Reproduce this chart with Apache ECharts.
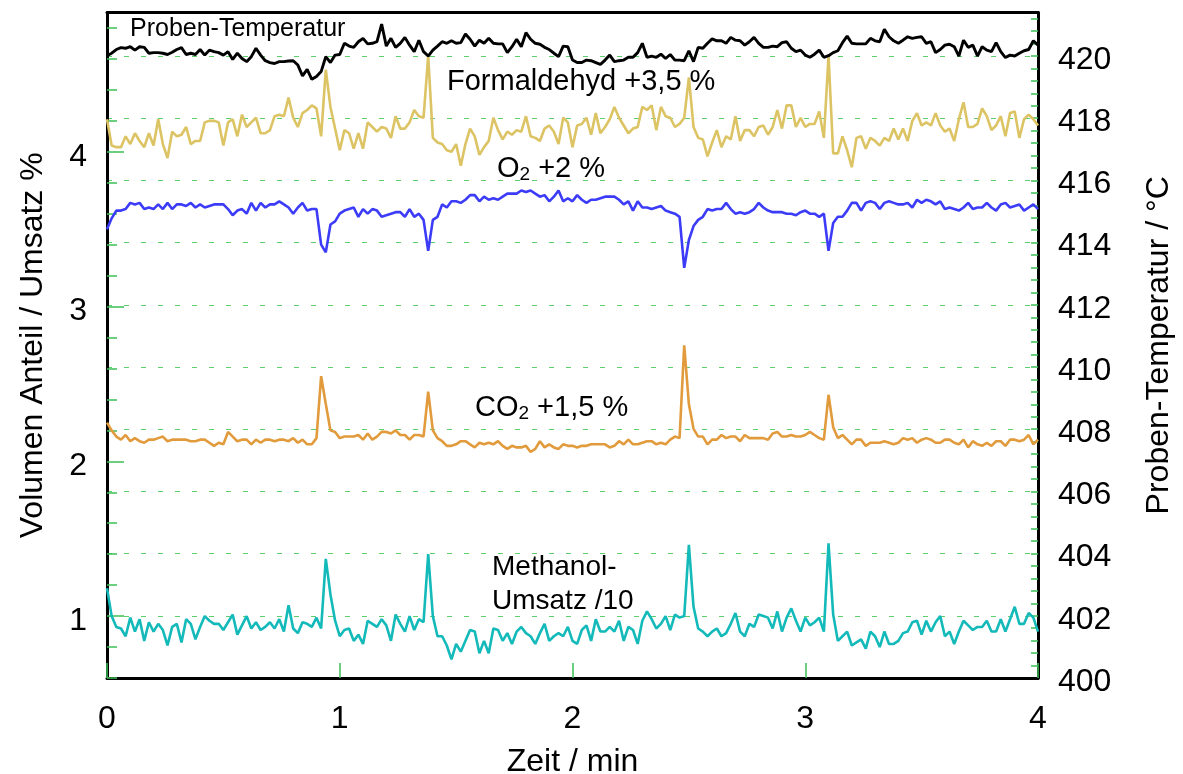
<!DOCTYPE html>
<html lang="de">
<head>
<meta charset="utf-8">
<title>Proben-Temperatur und Volumenanteile</title>
<script src="https://cdn.jsdelivr.net/npm/echarts@6/dist/echarts.min.js"></script>
<style>
    html, body { margin: 0; padding: 0; background: #fff; }
    #chart { width: 1183px; height: 774px; }
</style>
</head>
<body>
<div id="chart"></div>
<script>
'use strict';

// one sample every 0.02 min, 0 .. 4 min
const sampleStep = 0.02;

const xTickValues = [0, 1, 2, 3, 4];
const leftLabelValues = [1, 2, 3, 4];
const rightLabelValues = [400, 402, 404, 406, 408, 410, 412, 414, 416, 418, 420];

// Proben-Temperatur / °C (right axis)
const temperatur = [
    420.01, 420.09, 420.21, 420.27, 420.25, 420.30, 420.19, 420.30, 420.28, 420.09,
    420.11, 420.11, 420.09, 420.05, 420.12, 420.21, 420.27, 420.05, 420.09, 420.05,
    420.21, 420.03, 420.19, 420.14, 420.11, 420.03, 420.14, 419.89, 420.09, 419.92,
    419.82, 419.98, 420.25, 420.03, 419.85, 419.79, 419.76, 419.82, 419.82, 419.84,
    419.85, 419.71, 419.36, 419.57, 419.25, 419.34, 419.50, 419.98, 419.79, 420.03,
    420.05, 420.41, 420.32, 420.28, 420.46, 420.57, 420.39, 420.41, 420.46, 421.03,
    420.32, 420.57, 420.28, 420.41, 420.60, 420.35, 420.14, 420.51, 420.14, 420.00,
    420.19, 420.32, 420.46, 420.41, 420.49, 420.41, 420.43, 420.71, 420.54, 420.32,
    420.51, 420.41, 420.57, 420.41, 420.39, 420.39, 420.11, 420.30, 420.54, 420.30,
    420.75, 420.54, 420.41, 420.38, 420.28, 420.21, 420.09, 419.98, 420.32, 420.30,
    419.87, 419.79, 419.79, 419.87, 419.85, 419.79, 419.73, 419.87, 420.03, 419.82,
    419.85, 419.87, 419.96, 419.96, 420.11, 420.41, 419.96, 420.00, 419.96, 420.06,
    419.92, 420.05, 419.87, 419.87, 419.85, 420.17, 419.82, 420.28, 420.25, 420.41,
    420.55, 420.49, 420.49, 420.41, 420.60, 420.51, 420.49, 420.35, 420.46, 420.60,
    420.41, 420.28, 420.28, 420.32, 420.30, 420.43, 420.46, 420.25, 420.14, 420.19,
    420.03, 419.96, 420.06, 420.19, 419.96, 420.01, 420.11, 420.17, 420.43, 420.64,
    420.41, 420.39, 420.39, 420.39, 420.57, 420.49, 420.46, 420.86, 420.62, 420.49,
    420.41, 420.51, 420.62, 420.57, 420.60, 420.62, 420.41, 420.46, 420.11, 420.21,
    420.35, 420.38, 420.30, 420.00, 420.51, 420.28, 420.35, 420.00, 420.30, 420.19,
    420.14, 420.43, 420.14, 419.95, 420.03, 420.00, 420.09, 420.17, 420.21, 420.49,
    420.35
];

// Formaldehyd +3,5 %
const formaldehyd = [
    4.21, 4.04, 4.03, 4.03, 4.10, 4.05, 4.12, 4.07, 4.03, 4.12,
    4.04, 4.21, 4.05, 3.96, 4.13, 4.10, 4.11, 4.16, 4.05, 4.07,
    4.07, 4.19, 4.20, 4.20, 4.19, 4.04, 4.19, 4.21, 4.10, 4.24,
    4.16, 4.19, 4.22, 4.12, 4.12, 4.14, 4.23, 4.24, 4.23, 4.35,
    4.22, 4.16, 4.25, 4.27, 4.30, 4.28, 4.10, 4.53, 4.29, 4.15,
    4.01, 4.14, 4.12, 4.02, 4.12, 4.02, 4.19, 4.16, 4.13, 4.16,
    4.15, 4.09, 4.23, 4.15, 4.15, 4.19, 4.27, 4.23, 4.22, 4.62,
    4.09, 4.06, 4.05, 4.01, 4.00, 4.05, 3.91, 4.05, 4.15, 4.10,
    3.98, 4.03, 4.07, 4.22, 4.14, 4.08, 4.13, 4.11, 4.14, 4.13,
    4.23, 4.10, 4.09, 4.07, 4.15, 4.17, 4.13, 4.05, 4.22, 4.19,
    4.03, 4.17, 4.18, 4.22, 4.11, 4.25, 4.12, 4.16, 4.21, 4.29,
    4.22, 4.17, 4.12, 4.15, 4.16, 4.29, 4.27, 4.30, 4.14, 4.29,
    4.23, 4.22, 4.16, 4.18, 4.22, 4.48, 4.16, 4.09, 4.08, 3.97,
    4.06, 4.14, 4.03, 4.10, 4.08, 4.23, 4.07, 4.14, 4.14, 4.10,
    4.16, 4.17, 4.11, 4.16, 4.27, 4.15, 4.30, 4.30, 4.16, 4.22,
    4.16, 4.18, 4.18, 4.26, 4.09, 4.62, 3.99, 3.99, 4.10, 4.01,
    3.90, 4.09, 4.10, 4.02, 4.09, 4.07, 4.04, 4.09, 4.07, 4.15,
    4.08, 4.15, 4.07, 4.20, 4.25, 4.17, 4.19, 4.17, 4.25, 4.17,
    4.13, 4.15, 4.07, 4.21, 4.32, 4.16, 4.16, 4.18, 4.28, 4.23,
    4.14, 4.17, 4.23, 4.10, 4.25, 4.26, 4.09, 4.21, 4.24, 4.21,
    4.17
];

// O2 +2 %
const sauerstoff = [
    3.50, 3.57, 3.62, 3.62, 3.63, 3.67, 3.66, 3.67, 3.63, 3.64,
    3.63, 3.66, 3.63, 3.67, 3.63, 3.66, 3.66, 3.65, 3.67, 3.64,
    3.66, 3.64, 3.65, 3.66, 3.66, 3.66, 3.63, 3.59, 3.62, 3.63,
    3.60, 3.67, 3.62, 3.67, 3.64, 3.66, 3.66, 3.68, 3.66, 3.64,
    3.60, 3.64, 3.67, 3.62, 3.63, 3.63, 3.40, 3.35, 3.53, 3.55,
    3.60, 3.62, 3.63, 3.64, 3.58, 3.63, 3.60, 3.63, 3.62, 3.58,
    3.59, 3.60, 3.61, 3.61, 3.58, 3.63, 3.58, 3.60, 3.56, 3.36,
    3.56, 3.58, 3.66, 3.64, 3.68, 3.68, 3.67, 3.69, 3.72, 3.72,
    3.68, 3.71, 3.69, 3.70, 3.69, 3.71, 3.73, 3.73, 3.73, 3.75,
    3.74, 3.75, 3.73, 3.71, 3.72, 3.68, 3.71, 3.75, 3.68, 3.70,
    3.68, 3.72, 3.69, 3.67, 3.69, 3.69, 3.70, 3.71, 3.71, 3.71,
    3.69, 3.66, 3.68, 3.62, 3.68, 3.64, 3.64, 3.63, 3.64, 3.65,
    3.62, 3.61, 3.60, 3.58, 3.25, 3.43, 3.52, 3.56, 3.58, 3.63,
    3.62, 3.63, 3.63, 3.67, 3.63, 3.60, 3.61, 3.60, 3.61, 3.63,
    3.67, 3.64, 3.62, 3.61, 3.61, 3.61, 3.60, 3.60, 3.59, 3.61,
    3.62, 3.60, 3.60, 3.58, 3.60, 3.36, 3.54, 3.58, 3.58, 3.62,
    3.67, 3.67, 3.62, 3.67, 3.68, 3.67, 3.63, 3.67, 3.68, 3.67,
    3.66, 3.66, 3.67, 3.64, 3.69, 3.67, 3.69, 3.68, 3.66, 3.68,
    3.63, 3.64, 3.63, 3.62, 3.64, 3.67, 3.63, 3.64, 3.64, 3.67,
    3.64, 3.62, 3.66, 3.67, 3.64, 3.65, 3.66, 3.62, 3.64, 3.66,
    3.63
];

// CO2 +1,5 %
const kohlendioxid = [
    2.25, 2.20, 2.16, 2.14, 2.17, 2.13, 2.15, 2.13, 2.12, 2.14,
    2.14, 2.15, 2.16, 2.13, 2.14, 2.14, 2.14, 2.14, 2.13, 2.13,
    2.14, 2.14, 2.12, 2.10, 2.12, 2.11, 2.19, 2.16, 2.13, 2.14,
    2.14, 2.11, 2.14, 2.12, 2.14, 2.14, 2.13, 2.14, 2.14, 2.13,
    2.15, 2.12, 2.14, 2.11, 2.11, 2.15, 2.55, 2.37, 2.20, 2.19,
    2.15, 2.16, 2.16, 2.16, 2.17, 2.14, 2.18, 2.14, 2.16, 2.19,
    2.19, 2.18, 2.20, 2.17, 2.17, 2.14, 2.17, 2.17, 2.16, 2.45,
    2.20, 2.15, 2.13, 2.10, 2.10, 2.11, 2.13, 2.13, 2.11, 2.09,
    2.12, 2.11, 2.12, 2.11, 2.13, 2.10, 2.08, 2.10, 2.09, 2.09,
    2.10, 2.06, 2.08, 2.13, 2.09, 2.11, 2.09, 2.08, 2.11, 2.10,
    2.10, 2.09, 2.10, 2.10, 2.11, 2.11, 2.11, 2.11, 2.09, 2.10,
    2.13, 2.11, 2.14, 2.11, 2.11, 2.12, 2.13, 2.13, 2.11, 2.12,
    2.11, 2.14, 2.16, 2.15, 2.75, 2.37, 2.21, 2.16, 2.16, 2.11,
    2.14, 2.14, 2.17, 2.15, 2.16, 2.16, 2.13, 2.17, 2.15, 2.15,
    2.15, 2.15, 2.14, 2.18, 2.19, 2.16, 2.16, 2.17, 2.16, 2.16,
    2.17, 2.19, 2.17, 2.15, 2.14, 2.43, 2.22, 2.15, 2.17, 2.14,
    2.11, 2.14, 2.14, 2.10, 2.12, 2.12, 2.12, 2.13, 2.12, 2.11,
    2.12, 2.15, 2.14, 2.15, 2.12, 2.14, 2.15, 2.14, 2.12, 2.12,
    2.14, 2.14, 2.12, 2.11, 2.14, 2.09, 2.13, 2.11, 2.10, 2.12,
    2.10, 2.13, 2.13, 2.10, 2.14, 2.14, 2.13, 2.14, 2.17, 2.11,
    2.14
];

// Methanol-Umsatz /10
const methanol = [
    1.18, 1.00, 0.93, 0.92, 0.87, 0.99, 0.90, 0.98, 0.84, 0.96,
    0.90, 0.95, 0.91, 0.81, 0.93, 0.95, 0.83, 0.98, 0.95, 0.85,
    0.93, 1.00, 0.97, 0.95, 0.95, 0.91, 0.96, 1.01, 0.88, 0.94,
    1.00, 0.92, 0.96, 0.91, 0.93, 0.96, 0.92, 0.98, 0.90, 1.07,
    0.92, 0.89, 0.96, 0.95, 0.93, 0.99, 0.92, 1.37, 1.14, 0.97,
    0.87, 0.91, 0.92, 0.84, 0.88, 0.82, 0.97, 0.95, 0.93, 0.98,
    0.94, 0.84, 1.01, 0.95, 0.90, 1.00, 0.91, 0.98, 0.96, 1.40,
    1.00, 0.87, 0.87, 0.81, 0.72, 0.82, 0.77, 0.84, 0.91, 0.90,
    0.76, 0.84, 0.76, 0.92, 0.91, 0.84, 0.89, 0.82, 0.90, 0.93,
    0.89, 0.87, 0.82, 0.89, 0.95, 0.84, 0.87, 0.89, 0.87, 0.93,
    0.84, 0.82, 0.91, 0.94, 0.84, 0.98, 0.90, 0.90, 0.93, 0.90,
    0.97, 0.84, 0.93, 0.91, 0.82, 0.97, 1.03, 0.98, 0.92, 0.95,
    1.00, 0.91, 1.01, 0.99, 1.00, 1.46, 1.06, 0.92, 0.90, 0.87,
    0.90, 0.92, 0.87, 0.89, 0.95, 1.02, 0.90, 0.87, 0.95, 0.93,
    1.01, 1.00, 0.99, 0.92, 1.03, 0.90, 0.99, 1.05, 0.97, 0.90,
    0.99, 0.94, 0.96, 0.99, 0.90, 1.47, 1.01, 0.84, 0.87, 0.90,
    0.81, 0.83, 0.85, 0.79, 0.90, 0.87, 0.80, 0.90, 0.82, 0.82,
    0.84, 0.89, 0.90, 0.96, 0.97, 0.88, 0.97, 0.90, 0.96, 1.00,
    0.87, 0.90, 0.82, 0.90, 0.97, 0.94, 0.91, 0.93, 0.93, 0.97,
    0.90, 0.90, 0.98, 0.90, 0.98, 1.06, 0.95, 0.95, 1.02, 0.99,
    0.90
];

const fontFamily = '"Liberation Sans", Arial, Helvetica, sans-serif';
const tickGreen = '#3dbf55';
const gridGreen = '#5ccf6c';

function toPairs(values) {
    return values.map((v, i) => [+(i * sampleStep).toFixed(2), v]);
}

// small tick marks between the labelled ones
function stepTicks(from, to, step) {
    const ticks = [];
    for (let k = 0; from + k * step <= to + 1e-9; k++) {
        ticks.push(+(from + k * step).toFixed(2));
    }
    return ticks;
}

function lineSeries(name, values, color, yAxisIndex, width) {
    return {
        name: name,
        type: 'line',
        yAxisIndex: yAxisIndex,
        data: toPairs(values),
        showSymbol: false,
        symbol: 'none',
        lineStyle: {color: color, width: width},
        itemStyle: {color: color},
        animation: false,
    };
}

const subRich = {
    n: {fontSize: 29, lineHeight: 30, fontFamily: fontFamily, color: '#000'},
    s: {fontSize: 19, lineHeight: 16, verticalAlign: 'bottom', fontFamily: fontFamily, color: '#000'},
};

function label(x, y, text, size) {
    return {
        type: 'text', x: x, y: y, z: 100,
        style: {
            text: text, fill: '#000', verticalAlign: 'middle',
            font: `${size}px ${fontFamily}`, lineHeight: 34,
        },
    };
}

function richLabel(x, y, text) {
    return {
        type: 'text', x: x, y: y, z: 100,
        style: {text: text, verticalAlign: 'middle', rich: subRich},
    };
}

const chart = echarts.init(document.getElementById('chart'));

chart.setOption({
    backgroundColor: '#fff',
    animation: false,
    grid: {left: 107, right: 145, top: 12.5, bottom: 96, outerBoundsMode: 'none', containLabel: false},
    xAxis: [
        {
            type: 'value', min: 0, max: 4, interval: 1, position: 'bottom',
            name: 'Zeit / min', nameLocation: 'middle', nameGap: 68,
            nameTextStyle: {fontSize: 32, color: '#000', fontFamily: fontFamily},
            axisLine: {show: true, onZero: false, lineStyle: {color: '#000', width: 3}},
            axisTick: {show: true, inside: true, length: 15, customValues: xTickValues,
                lineStyle: {color: tickGreen, width: 1.5}},
            axisLabel: {fontSize: 32, color: '#000', margin: 25, fontFamily: fontFamily},
            splitLine: {show: false},
        },
        {
            type: 'value', min: 0, max: 4, position: 'top',
            axisLine: {show: true, onZero: false, lineStyle: {color: '#000', width: 3}},
            axisTick: {show: false}, axisLabel: {show: false}, splitLine: {show: false},
        },
    ],
    yAxis: [
        {
            type: 'value', min: 0.6, max: 4.9, position: 'left',
            name: 'Volumen Anteil / Umsatz %', nameLocation: 'middle', nameGap: 58,
            nameTextStyle: {fontSize: 32, color: '#000', fontFamily: fontFamily},
            axisLine: {show: true, onZero: false, lineStyle: {color: '#000', width: 3}},
            axisTick: {show: true, inside: true, length: 17, customValues: leftLabelValues,
                lineStyle: {color: tickGreen, width: 1.5}},
            axisLabel: {customValues: leftLabelValues, fontSize: 32, color: '#000',
                margin: 20, verticalAlign: 'top', lineHeight: 10, fontFamily: fontFamily},
            splitLine: {show: false},
        },
        {
            type: 'value', min: 400, max: 421.4, interval: 2, position: 'right',
            name: 'Proben-Temperatur / °C', nameLocation: 'middle', nameGap: 105,
            nameTextStyle: {fontSize: 32, color: '#000', fontFamily: fontFamily},
            axisLine: {show: true, onZero: false, lineStyle: {color: '#000', width: 3}},
            axisTick: {show: false},
            axisLabel: {customValues: rightLabelValues, fontSize: 32, color: '#000',
                margin: 20, verticalAlign: 'top', lineHeight: 8, fontFamily: fontFamily},
            splitLine: {show: true, showMinLine: false, showMaxLine: false,
                lineStyle: {color: gridGreen, width: 1.2, type: [5, 12]}},
        },
        {
            type: 'value', min: 0.6, max: 4.9, position: 'left',
            axisLine: {show: false, onZero: false},
            axisTick: {show: true, inside: true, length: 10, customValues: stepTicks(0.6, 4.8, 0.2),
                lineStyle: {color: tickGreen, width: 1.5}},
            axisLabel: {show: false}, splitLine: {show: false},
        },
        {
            type: 'value', min: 400, max: 421.4, position: 'right',
            axisLine: {show: false, onZero: false},
            axisTick: {show: true, inside: true, length: 7, customValues: stepTicks(400.4, 421.2, 0.4),
                lineStyle: {color: tickGreen, width: 1.5}},
            axisLabel: {show: false}, splitLine: {show: false},
        },
    ],
    series: [
        lineSeries('Methanol-Umsatz /10', methanol, '#14b9b9', 0, 2.6),
        lineSeries('CO2 +1,5 %', kohlendioxid, '#e19b3c', 0, 2.6),
        lineSeries('O2 +2 %', sauerstoff, '#3c3cf8', 0, 2.6),
        lineSeries('Formaldehyd +3,5 %', formaldehyd, '#dcc364', 0, 2.6),
        lineSeries('Proben-Temperatur', temperatur, '#000000', 1, 2.9),
    ],
    graphic: [
        label(130, 29, 'Proben-Temperatur', 25),
        label(447, 82, 'Formaldehyd +3,5 %', 29),
        richLabel(497, 169, '{n|O}{s|2}{n| +2 %}'),
        richLabel(475, 408, '{n|CO}{s|2}{n| +1,5 %}'),
        label(492, 584, 'Methanol-\nUmsatz /10', 28),
    ],
});
</script>
</body>
</html>
